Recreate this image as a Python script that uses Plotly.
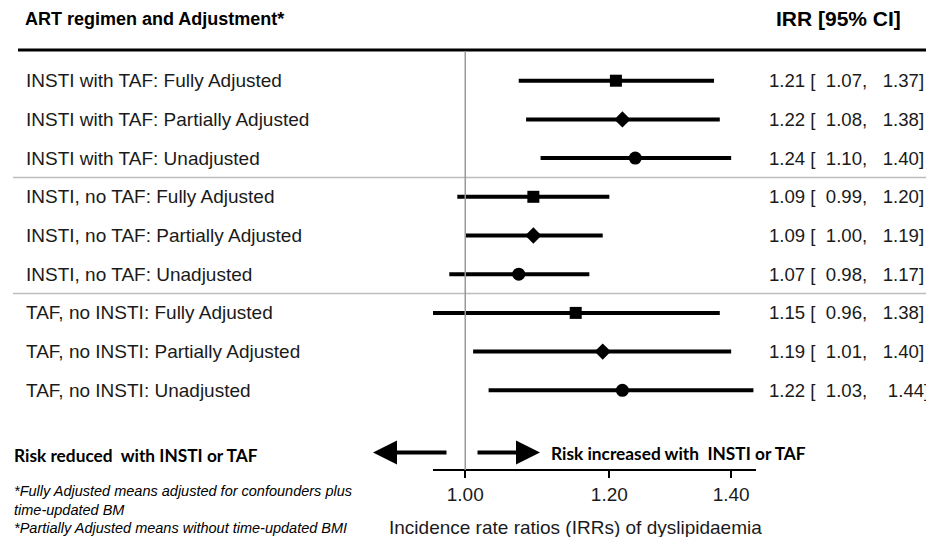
import math
import plotly.graph_objects as go

labels = [
    "INSTI with TAF: Fully Adjusted",
    "INSTI with TAF: Partially Adjusted",
    "INSTI with TAF: Unadjusted",
    "INSTI, no TAF: Fully Adjusted",
    "INSTI, no TAF: Partially Adjusted",
    "INSTI, no TAF: Unadjusted",
    "TAF, no INSTI: Fully Adjusted",
    "TAF, no INSTI: Partially Adjusted",
    "TAF, no INSTI: Unadjusted",
]
irr = [1.21, 1.22, 1.24, 1.09, 1.09, 1.07, 1.15, 1.19, 1.22]
lo = [1.07, 1.08, 1.10, 0.99, 1.00, 0.98, 0.96, 1.01, 1.03]
hi = [1.37, 1.38, 1.40, 1.20, 1.19, 1.17, 1.38, 1.40, 1.44]
adjust = ["full", "partial", "unadj"] * 3
tick_vals = [1.00, 1.20, 1.40]
tick_text = ["1.00", "1.20", "1.40"]

# the page body has an 8px default margin; work in reference pixels and offset
OFF = 8
W, H = 934 - OFF, 537 - OFF
ROW0, ROWH = 80.7, 38.7

def py(p):  # reference pixel -> paper y
    return 1 - (p - OFF) / H

def px(p):  # reference pixel -> paper x
    return (p - OFF) / W

NB = "\u00a0"
def fmt(e, l, h, extra=0):
    return f"{e:.2f}{NB}[{NB*2}{l:.2f},{NB*(3+extra)}{h:.2f}]"

fig = go.Figure()
symbols = {"full": ("square", 12), "partial": ("diamond", 12.5), "unadj": ("circle", 13)}
for kind in ["full", "partial", "unadj"]:
    idx = [i for i, a in enumerate(adjust) if a == kind]
    sym, sz = symbols[kind]
    fig.add_trace(go.Scatter(
        x=[irr[i] for i in idx],
        y=[i for i in idx],
        mode="markers",
        marker=dict(symbol=sym, size=sz, color="black", line=dict(width=0)),
        error_x=dict(type="data", symmetric=False,
                     array=[hi[i] - irr[i] for i in idx],
                     arrayminus=[irr[i] - lo[i] for i in idx],
                     thickness=4, width=0, color="black"),
        cliponaxis=False, showlegend=False, hoverinfo="skip",
    ))

shapes = []
# header thick rule
shapes.append(dict(type="line", xref="paper", yref="paper", x0=px(18), x1=1.0,
                   y0=py(50), y1=py(50), line=dict(color="black", width=3)))
# group separators
for yv in [2.5, 5.5]:
    shapes.append(dict(type="line", xref="paper", yref="y", x0=px(13), x1=1.0,
                       y0=yv, y1=yv, line=dict(color="#bdbdbd", width=1.5)))
# reference line at 1
shapes.append(dict(type="line", xref="x", yref="paper", x0=1.0, x1=1.0,
                   y0=py(470), y1=py(51), line=dict(color="#999999", width=1.5)))

ann = []
base_font = "Liberation Sans, Arial, sans-serif"
for i, lab in enumerate(labels):
    ann.append(dict(x=px(24), y=i, xref="paper", yref="y", text=lab, showarrow=False,
                    xanchor="left", yanchor="middle",
                    font=dict(family=base_font, size=19, color="#1a1a1a")))
    ann.append(dict(x=px(767), y=i, xref="paper", yref="y",
                    text=fmt(irr[i], lo[i], hi[i], 1 if i == 8 else 0), showarrow=False,
                    xanchor="left", yanchor="middle",
                    font=dict(family=base_font, size=18.6, color="#1a1a1a")))

ann.append(dict(x=px(23), y=py(19), xref="paper", yref="paper",
                text="<b>ART regimen and Adjustment*</b>", showarrow=False,
                xanchor="left", yanchor="middle",
                font=dict(family=base_font, size=18, color="black")))
ann.append(dict(x=px(903), y=py(19), xref="paper", yref="paper",
                text="<b>IRR [95% CI]</b>", showarrow=False,
                xanchor="right", yanchor="middle",
                font=dict(family=base_font, size=21, color="black")))

risk_font = dict(family="Lato, Liberation Sans, sans-serif", size=17.3, color="black")
ann.append(dict(x=px(12), y=py(455), xref="paper", yref="paper",
                text="<b>Risk reduced  with INSTI or TAF</b>".replace("  ", NB + NB),
                showarrow=False, xanchor="left", yanchor="middle", font=risk_font))
ann.append(dict(x=px(549), y=py(453), xref="paper", yref="paper",
                text="<b>Risk increased with  INSTI or TAF</b>".replace("  ", NB + NB),
                showarrow=False, xanchor="left", yanchor="middle", font=risk_font))
# arrows (tail offsets in pixels)
ann.append(dict(x=px(373), y=py(452.5), xref="paper", yref="paper", ax=75, ay=0,
                text="", showarrow=True,
                arrowhead=2, arrowsize=1.2, arrowwidth=4, arrowcolor="black"))
ann.append(dict(x=px(540), y=py(452.5), xref="paper", yref="paper", ax=-64, ay=0,
                text="", showarrow=True,
                arrowhead=2, arrowsize=1.2, arrowwidth=4, arrowcolor="black"))

foot_font = dict(family=base_font, size=14.5, color="black")
for t, yy in [("<i>*Fully Adjusted means adjusted for confounders plus</i>", 491),
              ("<i>time-updated BM</i>", 510),
              ("<i>*Partially Adjusted means without time-updated BMI</i>", 528)]:
    ann.append(dict(x=px(12), y=py(yy), xref="paper", yref="paper", text=t,
                    showarrow=False, xanchor="left", yanchor="middle", font=foot_font))

ann.append(dict(x=px(575), y=py(527), xref="paper", yref="paper",
                text="Incidence rate ratios (IRRs) of dyslipidaemia", showarrow=False,
                xanchor="center", yanchor="middle",
                font=dict(family=base_font, size=19, color="#1a1a1a")))

y_top = (OFF - ROW0) / ROWH
y_bot = (537 - ROW0) / ROWH

fig.update_layout(
    width=W, height=H, margin=dict(l=0, r=0, t=0, b=0),
    paper_bgcolor="white", plot_bgcolor="white",
    shapes=shapes, annotations=ann,
    xaxis=dict(type="log", range=[math.log10(0.96), math.log10(1.4447)],
               domain=[px(433), px(756)], anchor="free", position=py(470),
               showline=True, linecolor="black", linewidth=2,
               ticks="outside", ticklen=7, tickwidth=2, tickcolor="black",
               tickvals=tick_vals, ticktext=tick_text, showgrid=False, zeroline=False,
               tickfont=dict(family=base_font, size=19, color="#1a1a1a")),
    yaxis=dict(range=[y_bot, y_top], domain=[0, 1], visible=False, showgrid=False),
)

fig.write_html("out.html")
